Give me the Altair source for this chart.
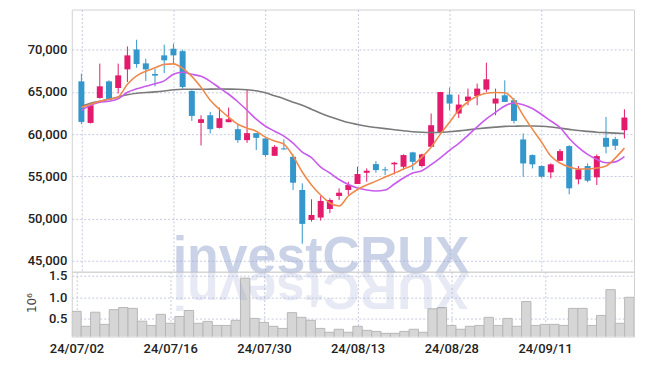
import altair as alt
import pandas as pd

dates = [
    "24/07/02", "24/07/03", "24/07/04", "24/07/05", "24/07/08", "24/07/09", "24/07/10", "24/07/11",
    "24/07/12", "24/07/15", "24/07/16", "24/07/17", "24/07/18", "24/07/19", "24/07/22", "24/07/23",
    "24/07/24", "24/07/25", "24/07/26", "24/07/29", "24/07/30", "24/07/31", "24/08/01", "24/08/02",
    "24/08/05", "24/08/06", "24/08/07", "24/08/08", "24/08/09", "24/08/12", "24/08/13", "24/08/14",
    "24/08/16", "24/08/19", "24/08/20", "24/08/21", "24/08/22", "24/08/23", "24/08/26", "24/08/27",
    "24/08/28", "24/08/29", "24/08/30", "24/09/02", "24/09/03", "24/09/04", "24/09/05", "24/09/06",
    "24/09/09", "24/09/10", "24/09/11", "24/09/12", "24/09/13", "24/09/19", "24/09/20", "24/09/23",
    "24/09/24", "24/09/25", "24/09/26", "24/09/27",
]
opens = [
    66250, 61320, 64280, 66250, 65460, 67670, 70030, 68380, 67120, 69330,
    70120, 69830, 65110, 61320, 62230, 60730, 61410, 60580, 59280, 60110,
    59480, 57420, 58300, 57310, 53370, 49820, 50100, 51120, 52660, 53370,
    54080, 55410, 56440, 55820, 56410, 56120, 57830, 56210, 58490, 60190,
    64680, 62440, 63920, 64520, 65270, 63620, 64600, 64010, 59360, 57510,
    56210, 55460, 56830, 58570, 54630, 56210, 54870, 59550, 59400, 60460,
]
highs = [
    67160, 63500, 68350, 66370, 68350, 70390, 71180, 68940, 67750, 70590,
    70710, 70000, 65190, 62230, 62620, 63140, 63140, 61140, 65270, 60110,
    59670, 58690, 59360, 57590, 54160, 52270, 52660, 52390, 53570, 54350,
    56120, 55930, 56800, 56120, 56710, 57590, 57900, 57670, 62430, 65000,
    65510, 64680, 65390, 65980, 68460, 65390, 66370, 64280, 60070, 57590,
    56290, 56520, 58220, 58690, 56210, 56520, 57590, 62030, 59670, 62940,
]
lows = [
    61170, 61250, 64200, 64000, 64800, 66170, 67870, 66290, 65660, 67230,
    68350, 65390, 61560, 58650, 60070, 60660, 61400, 58960, 58960, 58100,
    57300, 57420, 58160, 53370, 46990, 49620, 49740, 50620, 52190, 52780,
    54080, 54350, 55410, 55140, 55220, 55730, 55730, 56050, 58490, 60190,
    62830, 61910, 63420, 63420, 64990, 62230, 63810, 61250, 54940, 55930,
    54820, 54750, 56830, 52860, 54040, 54280, 53960, 57710, 58100, 59480,
]
closes = [
    61440, 63420, 65660, 64090, 66960, 69330, 68300, 67670, 66930, 68740,
    69330, 65580, 62150, 61760, 60580, 61880, 61760, 59280, 60110, 59550,
    57510, 58490, 58180, 54230, 49350, 50410, 52070, 52190, 53050, 53960,
    55260, 55650, 55730, 55700, 56600, 57510, 56710, 57590, 61050, 64990,
    63620, 63500, 64440, 65390, 66490, 64210, 63810, 61560, 56520, 56410,
    54940, 56410, 57980, 53570, 55820, 54470, 57390, 58490, 58610, 61960,
]
ma_orange = [
    63170, 63530, 63890, 64130, 64400, 65900, 66900, 67440, 67850, 68260,
    68320, 67790, 66840, 65540, 64010, 62940, 62000, 61170, 60700, 60340,
    59640, 59170, 58810, 57390, 55500, 53960, 52780, 51830, 51470, 52660,
    53430, 53960, 54420, 54900, 55370, 55850, 56320, 57270, 58450, 59990,
    61410, 62820, 63830, 64480, 64840, 64920, 64900, 64010, 62220, 60580,
    59040, 57390, 56570, 56090, 55850, 55850, 55970, 56210, 57150, 58330,
]
ma_purple = [
    62820, 63420, 63770, 63890, 64180, 64950, 65370, 65660, 65960, 66310,
    67080, 67320, 67080, 66840, 66250, 65480, 64720, 63830, 62820, 61760,
    60930, 60340, 59750, 58920, 57860, 57210, 56090, 55380, 54610, 54020,
    53610, 53370, 53250, 53370, 54080, 54790, 55380, 55660, 56370, 57190,
    58080, 58900, 59850, 60850, 61800, 62570, 63330, 63690, 63480, 63030,
    62320, 61550, 60780, 59480, 58420, 57590, 57000, 56590, 56700, 57330,
]
ma_gray = [
    63300, 63650, 63890, 64130, 64400, 64660, 64840, 64920, 65000, 65110,
    65250, 65310, 65310, 65310, 65330, 65340, 65330, 65310, 65250, 65130,
    64900, 64540, 64190, 63770, 63420, 62940, 62470, 62060, 61700, 61370,
    61130, 60930, 60780, 60640, 60520, 60400, 60280, 60220, 60190, 60190,
    60280, 60380, 60500, 60620, 60730, 60820, 60910, 60930, 60960, 60960,
    60930, 60840, 60700, 60560, 60420, 60320, 60220, 60170, 60110, 60070,
]
volume_m = [
    0.67, 0.32, 0.65, 0.365, 0.71, 0.76, 0.74, 0.44, 0.34, 0.60,
    0.39, 0.55, 0.69, 0.39, 0.435, 0.34, 0.34, 0.46, 1.45, 0.505,
    0.41, 0.32, 0.27, 0.64, 0.53, 0.46, 0.27, 0.18, 0.25, 0.18,
    0.32, 0.225, 0.20, 0.155, 0.155, 0.20, 0.25, 0.18, 0.73, 0.76,
    0.34, 0.25, 0.32, 0.34, 0.53, 0.34, 0.505, 0.32, 0.90, 0.34,
    0.365, 0.365, 0.34, 0.74, 0.74, 0.34, 0.575, 1.18, 0.39, 1.0,
]
price_ticks = [45000, 50000, 55000, 60000, 65000, 70000]
volume_ticks = [0.5, 1.0, 1.5]
date_tick_idx = [0, 10, 20, 30, 40, 50]
watermark = ["investCRUX"]
watermark_reflect = ["XURCtsevni"]

n = len(dates)
df = pd.DataFrame({
    "idx": list(range(n)), "date": dates, "open": opens, "high": highs,
    "low": lows, "close": closes, "ma5": ma_orange, "ma10": ma_purple,
    "ma60": ma_gray, "vol": volume_m,
})
df["dir"] = ["up" if c >= o else "down" for o, c in zip(opens, closes)]

label_expr = "[" + ",".join("'" + d + "'" for d in dates) + "][datum.value]"

FONT = "Roboto"
GRID = "#c5cadf"
W, H1, H2 = 564, 263, 65

x_scale = alt.Scale(domain=[-0.5, n - 0.5], nice=False, zero=False)
x_price = alt.X("idx:Q", scale=x_scale, title=None,
                axis=alt.Axis(values=date_tick_idx, labels=False, ticks=False, domain=False,
                              grid=True, gridColor=GRID, gridDash=[2, 2]))
y_scale = alt.Scale(domain=[43680, 74760], nice=False, zero=False)
y_axis = alt.Axis(values=price_ticks, format=",.0f", ticks=False, domain=False, grid=True,
                  gridColor=GRID, gridDash=[2, 2], labelFont=FONT, labelFontSize=13,
                  labelFontWeight=500, labelColor="#222", labelPadding=5, minExtent=58, maxExtent=58)

def py(field):
    return alt.Y(field, scale=y_scale, axis=y_axis, title=None)

color = alt.Color("dir:N", scale=alt.Scale(domain=["up", "down"], range=["#e41b6c", "#3497cb"]), legend=None)

base = alt.Chart(df)
wicks = base.mark_rule(strokeWidth=1).encode(x=x_price, y=py("low:Q"), y2="high:Q", color=color)
bodies = base.mark_bar(size=6).encode(x=x_price, y=py("open:Q"), y2="close:Q", color=color)
l5 = base.mark_line(color="#ef8a4c", strokeWidth=1.6, interpolate="monotone").encode(x=x_price, y=py("ma5:Q"))
l10 = base.mark_line(color="#c95bec", strokeWidth=1.6, interpolate="monotone").encode(x=x_price, y=py("ma10:Q"))
l60 = base.mark_line(color="#7a7a7a", strokeWidth=1.6, interpolate="monotone").encode(x=x_price, y=py("ma60:Q"))

wm = alt.Chart(pd.DataFrame({"t": watermark})).mark_text(
    font="Liberation Sans", fontWeight="bold", fontSize=52, color="#8c9ccb", opacity=0.45,
    align="center", baseline="alphabetic"
).encode(text="t:N", x=alt.value(250), y=alt.value(264))

price = alt.layer(wicks, bodies, l60, l10, l5, wm).properties(width=W, height=H1)

x_vol = alt.X("x0:Q", scale=x_scale, title=None,
              axis=alt.Axis(values=date_tick_idx, labelExpr=label_expr, ticks=False, domain=False,
                            grid=True, gridColor=GRID, gridDash=[2, 2], labelFont=FONT,
                            labelFontSize=13, labelFontWeight=500, labelColor="#222", labelPadding=6))
vbars = base.transform_calculate(
    x0="datum.idx - 0.5", x1="datum.idx + 0.5", v0="0"
).mark_bar(
    color="#d6d6d6", stroke="#b8b8b8", strokeWidth=1, clip=True
).encode(
    x=x_vol, x2="x1:Q",
    y=alt.Y("vol:Q", scale=alt.Scale(domain=[0.08, 1.6], nice=False, zero=False), title="10⁶",
            axis=alt.Axis(values=volume_ticks, format=".1f", ticks=False, domain=False, grid=True,
                          gridColor=GRID, gridDash=[2, 2], labelFont=FONT, labelFontSize=13,
                          labelFontWeight=500, labelColor="#222", labelPadding=5, minExtent=58,
                          maxExtent=58, titleFont="DejaVu Sans", titleFontWeight="normal",
                          titleFontSize=12, titleColor="#444", titleX=-33, titleY=31)),
    y2="v0:Q",
)
wm2 = alt.Chart(pd.DataFrame({"t": watermark_reflect})).mark_text(
    font="Liberation Sans", fontWeight="bold", fontSize=52, color="#8c9ccb", opacity=0.2,
    align="center", baseline="alphabetic", angle=180
).encode(text="t:N", x=alt.value(250), y=alt.value(1))

vol = alt.layer(vbars, wm2).properties(width=W, height=H2)

chart = alt.vconcat(price, vol, spacing=0, bounds="flush").properties(
    padding={"left": 5, "top": 0, "right": 2, "bottom": 5}
).configure_view(stroke="#d2d2d2", strokeWidth=1)

chart.save("out.html", embed_options={"renderer": "svg", "actions": False})
